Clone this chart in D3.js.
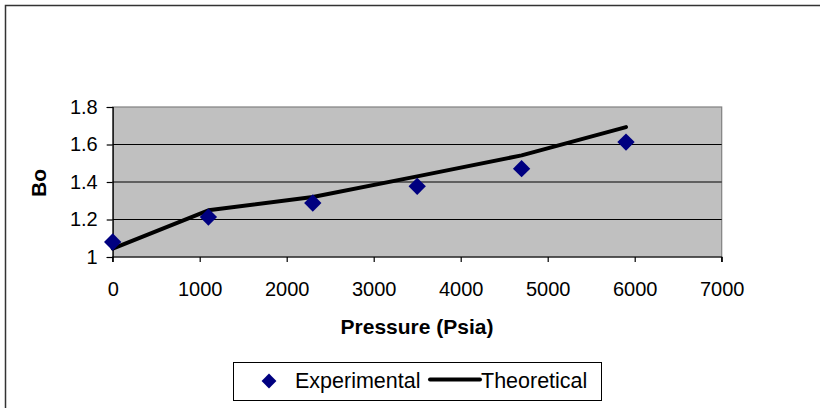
<!DOCTYPE html>
<html><head><meta charset="utf-8">
<script src="https://d3js.org/d3.v7.min.js"></script>
<style>body{margin:0;background:#fff;}svg{display:block;font-family:Arial,"Liberation Sans",sans-serif;}</style>
</head><body>
<script>
const pressure = [0, 1100, 2300, 3500, 4700, 5900];
const experimental = [1.08, 1.213, 1.288, 1.377, 1.471, 1.613];
const theoretical = [1.045, 1.249, 1.32, 1.43, 1.542, 1.693];
const xTicks = [0, 1000, 2000, 3000, 4000, 5000, 6000, 7000];
const yTicks = [1, 1.2, 1.4, 1.6, 1.8];
const yTickLabels = ["1", "1.2", "1.4", "1.6", "1.8"];

const W = 820, H = 408;
const svg = d3.select("body").append("svg").attr("width", W).attr("height", H);

// outer chart border
svg.append("rect").attr("x", 5.5).attr("y", 5.5).attr("width", 840).attr("height", 420)
  .attr("fill", "#fff").attr("stroke", "#333").attr("stroke-width", 1.5);

const x = d3.scaleLinear().domain([0, 7000]).range([112.7, 721.7]);
const y = d3.scaleLinear().domain([1, 1.8]).range([257, 107]);

// plot area
svg.append("rect").attr("x", x(0)).attr("y", y(1.8)).attr("width", x(7000) - x(0)).attr("height", y(1) - y(1.8))
  .attr("fill", "#c0c0c0").attr("stroke", "#808080").attr("stroke-width", 1.2);

// gridlines
svg.append("g").selectAll("line").data(yTicks.filter(d => d > 1 && d < 1.8)).join("line")
  .attr("x1", x(0)).attr("x2", x(7000)).attr("y1", d => y(d)).attr("y2", d => y(d))
  .attr("stroke", "#000").attr("stroke-width", 1);

// axes
const xAxis = d3.axisBottom(x).tickValues(xTicks).tickSize(5).tickPadding(20).tickFormat(d3.format("d"));
const gx = svg.append("g").attr("transform", `translate(0,${y(1)})`).call(xAxis);
const yAxis = d3.axisLeft(y).tickValues(yTicks).tickSize(6).tickPadding(9).tickFormat((d, i) => yTickLabels[i]);
const gy = svg.append("g").attr("transform", `translate(${x(0)},0)`).call(yAxis);
[gx, gy].forEach(g => {
  g.select(".domain").attr("stroke", "#000").attr("stroke-width", 1.2);
  g.selectAll(".tick line").attr("stroke", "#000").attr("stroke-width", 1.2);
  g.selectAll(".tick text").attr("font-size", 20).attr("fill", "#000").attr("font-family", "Arial, 'Liberation Sans', sans-serif");
});
gx.select(".domain").attr("d", `M${x(0)},5V0H${x(7000)}V5`);

// theoretical line
const line = d3.line().x((d, i) => x(pressure[i])).y(d => y(d));
svg.append("path").datum(theoretical).attr("d", line).attr("fill", "none")
  .attr("stroke", "#000").attr("stroke-width", 4).attr("stroke-linecap", "round").attr("stroke-linejoin", "round");

// experimental markers
const diamond = d3.symbol().type(d3.symbolSquare).size(150);
svg.append("g").selectAll("path").data(experimental).join("path")
  .attr("d", diamond)
  .attr("transform", (d, i) => `translate(${x(pressure[i])},${y(d)}) rotate(45)`)
  .attr("fill", "#000080");

// axis titles
svg.append("text").attr("x", 417).attr("y", 334).attr("text-anchor", "middle")
  .attr("font-size", 21).attr("font-weight", "bold").text("Pressure (Psia)");
svg.append("text").attr("transform", "translate(46,183) rotate(-90)").attr("text-anchor", "middle")
  .attr("font-size", 21).attr("font-weight", "bold").text("Bo");

// legend
const lg = svg.append("g");
lg.append("rect").attr("x", 233.5).attr("y", 362.5).attr("width", 368).attr("height", 38)
  .attr("fill", "#fff").attr("stroke", "#000").attr("stroke-width", 1);
lg.append("path").attr("d", d3.symbol().type(d3.symbolSquare).size(110))
  .attr("transform", "translate(269,381) rotate(45)").attr("fill", "#000080");
lg.append("text").attr("x", 295).attr("y", 388).attr("font-size", 21.5).text("Experimental");
lg.append("line").attr("x1", 430).attr("x2", 480).attr("y1", 379.5).attr("y2", 379.5)
  .attr("stroke", "#000").attr("stroke-width", 4).attr("stroke-linecap", "round");
lg.append("text").attr("x", 481).attr("y", 388).attr("font-size", 21.5).text("Theoretical");
</script>
</body></html>
